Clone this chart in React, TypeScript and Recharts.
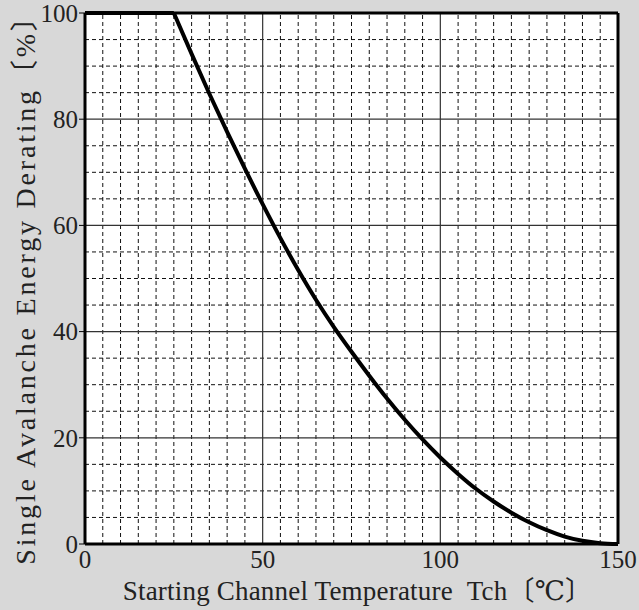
import { LineChart, Line, XAxis, YAxis, ReferenceLine, CartesianGrid, Label } from 'recharts';

// starting channel temperature (°C)
const TEMPS = [0, 5, 10, 15, 20, 25, 30, 35, 40, 45, 50, 55, 60, 65, 70, 75, 80, 85, 90, 95, 100, 105, 110, 115, 120, 125, 130, 135, 140, 145, 150];
// single avalanche energy derating (%)
const DERATING = [100, 100, 100, 100, 100, 100, 92.3, 84.8, 77.6, 70.7, 64, 57.6, 51.6, 46, 40.9, 36.2, 31.7, 27.4, 23.4, 19.7, 16.3, 13.2, 10.4, 8, 5.9, 4.1, 2.6, 1.4, 0.6, 0.15, 0];

const X_TICKS = [0, 50, 100, 150];
const Y_TICKS = [0, 20, 40, 60, 80, 100];
const X_MINOR = [5, 10, 15, 20, 25, 30, 35, 40, 45, 55, 60, 65, 70, 75, 80, 85, 90, 95, 105, 110, 115, 120, 125, 130, 135, 140, 145];
const Y_MINOR = [5, 10, 15, 25, 30, 35, 45, 50, 55, 65, 70, 75, 85, 90, 95];
const X_MAJOR_INNER = [50, 100];
const Y_MAJOR_INNER = [20, 40, 60, 80];

const KNEE = 25;
const data = TEMPS.map((t, i) => ({
  t,
  flat: t <= KNEE ? DERATING[i] : null,
  derate: t >= KNEE ? DERATING[i] : null,
}));

const FONT = '"Liberation Serif", "DejaVu Serif", "Noto Sans CJK JP", serif';
const tickStyle = { fontSize: 25, fill: '#222', fontFamily: FONT };
const Y_TITLE = 'Single Avalanche Energy Derating〔%〕';

function YTitle(props: any) {
  const vb = props.viewBox || {};
  const cx = (vb.x ?? 0) + 25;
  const cy = (vb.y ?? 0) + (vb.height ?? 0) / 2 + 4;
  return (
    <g transform={`translate(${cx} ${cy}) rotate(-90)`}>
      <text x={0} y={0} dy="0.35em" textAnchor="middle" style={{ fontSize: 28, letterSpacing: 2.8, fill: '#222', fontFamily: FONT }}>
        {Y_TITLE}
      </text>
    </g>
  );
}

export default function App() {
  return (
    <div style={{ position: 'fixed', left: 0, top: 0, width: 639, height: 610, background: '#d8d8d8' }}>
      <LineChart width={639} height={610} data={data} margin={{ top: 13, right: 21, bottom: 0, left: 0 }}>
        <CartesianGrid fill="#ffffff" horizontal={false} vertical={false} />
        <XAxis
          dataKey="t"
          type="number"
          domain={[0, 150]}
          ticks={X_TICKS}
          tickLine={false}
          axisLine={false}
          height={66}
          tick={tickStyle}
          tickMargin={0}
        >
          <Label value={'Starting Channel Temperature\u00a0\u00a0Tch〔℃〕'} position="insideBottom" offset={10} dx={6} style={{ fontSize: 27, letterSpacing: 0.2, fill: '#222', fontFamily: FONT }} />
        </XAxis>
        <YAxis
          type="number"
          domain={[0, 100]}
          ticks={Y_TICKS}
          width={85}
          axisLine={false}
          tickLine={{ stroke: '#000', strokeWidth: 1 }}
          tickSize={6}
          tickMargin={1}
          tick={tickStyle}
          interval={0}
        >
          <Label content={YTitle} />
        </YAxis>
        {X_MINOR.map((v) => (
          <ReferenceLine key={'xm' + v} x={v} stroke="#111" strokeWidth={1} strokeDasharray="4 3" />
        ))}
        {Y_MINOR.map((v) => (
          <ReferenceLine key={'ym' + v} y={v} stroke="#111" strokeWidth={1} strokeDasharray="4 3" />
        ))}
        {X_MAJOR_INNER.map((v) => (
          <ReferenceLine key={'xM' + v} x={v} stroke="#333" strokeWidth={1.2} />
        ))}
        {Y_MAJOR_INNER.map((v) => (
          <ReferenceLine key={'yM' + v} y={v} stroke="#333" strokeWidth={1.2} />
        ))}
        <ReferenceLine x={0} stroke="#000" strokeWidth={3} />
        <ReferenceLine x={150} stroke="#000" strokeWidth={3} />
        <ReferenceLine y={0} stroke="#000" strokeWidth={3} />
        <ReferenceLine y={100} stroke="#000" strokeWidth={3} />
        <Line dataKey="flat" type="linear" stroke="#000" strokeWidth={4} dot={false} isAnimationActive={false} />
        <Line dataKey="derate" type="monotone" stroke="#000" strokeWidth={4} dot={false} isAnimationActive={false} />
      </LineChart>
    </div>
  );
}
